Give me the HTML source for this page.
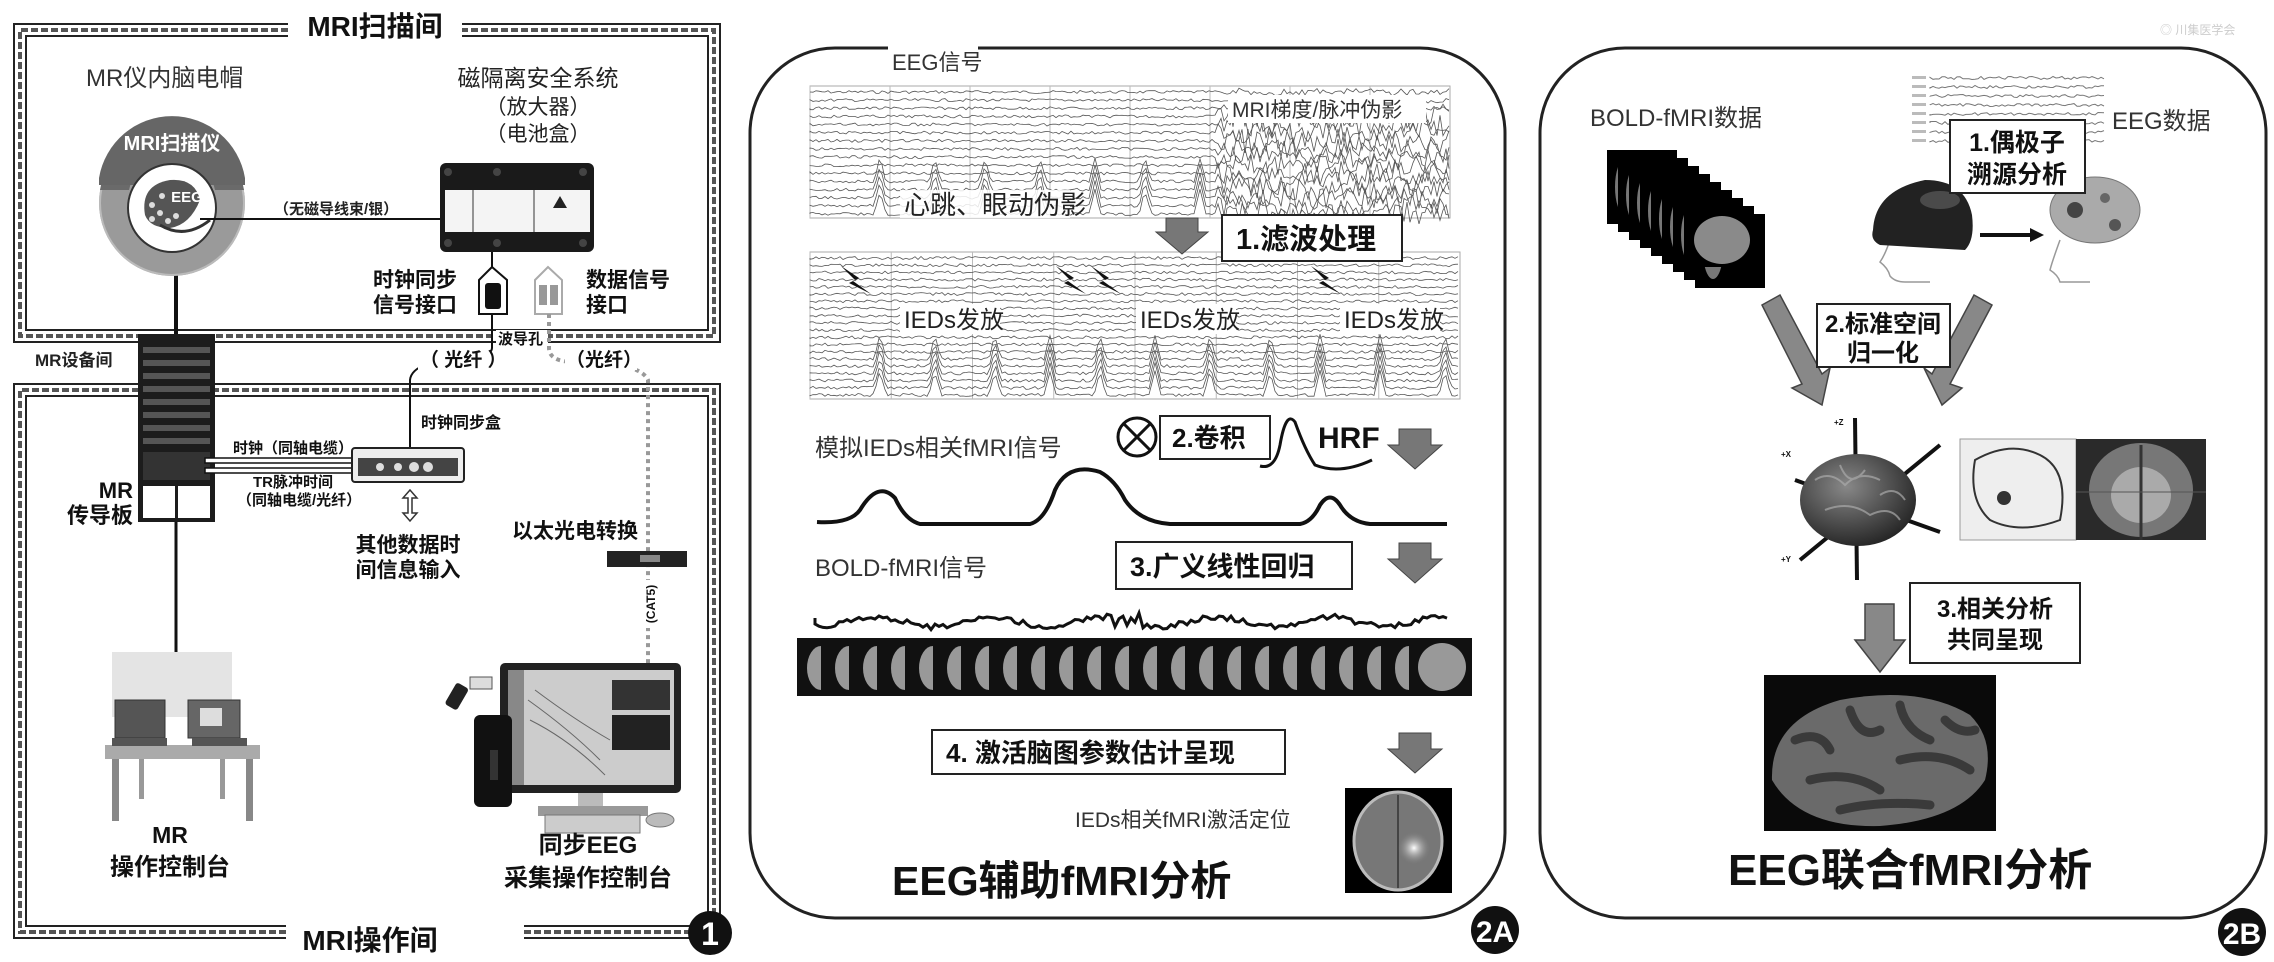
<!DOCTYPE html>
<html><head><meta charset="utf-8">
<style>
html,body{margin:0;padding:0;background:#fff;}
svg{display:block;}
text{font-family:"Liberation Sans","Noto Sans CJK SC",sans-serif;}
.b{font-weight:bold;}
</style></head>
<body>
<svg id="s" width="2274" height="962" viewBox="0 0 2274 962" xmlns="http://www.w3.org/2000/svg">
<defs>
<radialGradient id="hot" cx="0.5" cy="0.5" r="0.5"><stop offset="0" stop-color="#fff"/><stop offset="1" stop-color="#888" stop-opacity="0"/></radialGradient>
<radialGradient id="gb" cx="0.4" cy="0.35" r="0.7"><stop offset="0" stop-color="#888"/><stop offset="1" stop-color="#222"/></radialGradient>
</defs>
<rect width="2274" height="962" fill="#fff"/>

<!-- ============ PANEL 1 ============ -->
<g id="walls" fill="none" stroke="#222">
 <path d="M288 24 H14 V342 H720 V24 H462" stroke-width="2"/>
 <path d="M288 36 H26 V330 H708 V36 H462" stroke-width="2"/>
 <path d="M288 30 H20 V336 H714 V30 H462" stroke-width="4" stroke-dasharray="7 3" stroke="#555"/>
 <path d="M286 938 H14 V384 H720 V918" stroke-width="2"/>
 <path d="M286 926 H26 V396 H708 V918" stroke-width="2"/>
 <path d="M286 932 H20 V390 H714 V918" stroke-width="4" stroke-dasharray="7 3" stroke="#555"/>
 <path d="M524 938 H690 M524 926 H690" stroke-width="2"/>
 <path d="M524 932 H690" stroke-width="4" stroke-dasharray="7 3" stroke="#555"/>
</g>
<text x="375" y="36" class="b" font-size="28" text-anchor="middle" fill="#111">MRI扫描间</text>
<text x="370" y="950" class="b" font-size="28" text-anchor="middle" fill="#111">MRI操作间</text>
<text x="35" y="366" class="b" font-size="17" fill="#222">MR设备间</text>

<text x="86" y="86" font-size="24" fill="#333">MR仪内脑电帽</text>
<text x="538" y="86" font-size="23" text-anchor="middle" fill="#222">磁隔离安全系统</text>
<text x="538" y="114" font-size="21" text-anchor="middle" fill="#222">（放大器）</text>
<text x="538" y="141" font-size="21" text-anchor="middle" fill="#222">（电池盒）</text>

<line x1="176" y1="260" x2="176" y2="340" stroke="#111" stroke-width="4"/>
<circle cx="172" cy="203" r="73" fill="#9a9a9a"/>
<circle cx="172" cy="203" r="72" fill="none" stroke="#bbb" stroke-width="2"/>
<path d="M100 190 A73 73 0 0 1 244 190 L215 190 A44 44 0 0 0 129 190 Z" fill="#6a6a6a"/>
<path d="M99 178 A74 74 0 0 1 245 178 L245 185 L99 185 Z" fill="#666"/>
<text x="172" y="150" class="b" font-size="20" text-anchor="middle" fill="#fff">MRI扫描仪</text>
<circle cx="172" cy="208" r="44" fill="#fff" stroke="#333" stroke-width="2"/>
<path d="M145 215 Q140 185 170 180 Q195 178 200 200 Q190 225 170 228 Q150 228 145 215Z" fill="#555"/>
<g fill="#ddd"><circle cx="152" cy="205" r="3"/><circle cx="160" cy="213" r="3"/><circle cx="152" cy="219" r="3"/><circle cx="162" cy="196" r="3"/><circle cx="168" cy="221" r="3"/><circle cx="176" cy="216" r="3"/></g>
<text x="187" y="202" class="b" font-size="15" text-anchor="middle" fill="#fff">EEG</text>
<path d="M160 225 Q185 240 210 220" stroke="#333" stroke-width="3" fill="none"/>
<line x1="200" y1="219" x2="440" y2="219" stroke="#111" stroke-width="2"/>
<text x="274" y="214" class="b" font-size="15" fill="#222">（无磁导线束/银）</text>

<rect x="440" y="163" width="154" height="89" rx="6" fill="#1a1a1a"/>
<rect x="445" y="190" width="145" height="42" fill="#f4f4f4"/>
<line x1="473" y1="190" x2="473" y2="232" stroke="#333"/><line x1="534" y1="190" x2="534" y2="232" stroke="#333"/>
<polygon points="560,196 553,208 567,208" fill="#222"/>
<g fill="#444"><circle cx="448" cy="172" r="4"/><circle cx="497" cy="172" r="4"/><circle cx="583" cy="172" r="4"/><circle cx="448" cy="243" r="4"/><circle cx="497" cy="243" r="4"/><circle cx="583" cy="243" r="4"/></g>
<line x1="492" y1="252" x2="492" y2="268" stroke="#111" stroke-width="2"/>
<path d="M479 280 L492 267 L507 280 L507 314 L479 314 Z" fill="#fff" stroke="#111" stroke-width="2"/>
<rect x="485" y="283" width="16" height="26" rx="3" fill="#111"/>
<path d="M535 280 L548 267 L562 280 L562 314 L535 314 Z" fill="#fff" stroke="#aaa" stroke-width="2"/>
<rect x="539" y="285" width="8" height="20" fill="#999"/><rect x="550" y="285" width="8" height="20" fill="#999"/>
<text x="415" y="287" class="b" font-size="21" text-anchor="middle" fill="#111">时钟同步</text>
<text x="415" y="312" class="b" font-size="21" text-anchor="middle" fill="#111">信号接口</text>
<text x="586" y="287" class="b" font-size="21" fill="#111">数据信号</text>
<text x="586" y="312" class="b" font-size="21" fill="#111">接口</text>
<rect x="496" y="330" width="52" height="16" fill="#fff"/>
<text x="498" y="344" class="b" font-size="15" fill="#111">波导孔</text>

<path d="M492 314 V348 Q492 356 470 358 Q412 360 410 380 V448" stroke="#111" stroke-width="2" fill="none"/>
<rect x="418" y="350" width="72" height="20" fill="#fff"/>
<text x="420" y="366" class="b" font-size="19" fill="#111">（ 光纤 ）</text>
<path d="M549 314 V348 Q549 362 575 362 Q640 362 648 380 V665" stroke="#999" stroke-width="4" stroke-dasharray="4 4" fill="none"/>
<rect x="565" y="350" width="72" height="20" fill="#fff"/>
<text x="566" y="366" class="b" font-size="19" fill="#111">（光纤）</text>

<rect x="138" y="334" width="77" height="188" fill="#1c1c1c"/>
<g fill="#555"><rect x="143" y="347" width="67" height="6"/><rect x="143" y="360" width="67" height="6"/><rect x="143" y="373" width="67" height="6"/><rect x="143" y="386" width="67" height="6"/><rect x="143" y="399" width="67" height="6"/><rect x="143" y="412" width="67" height="6"/><rect x="143" y="425" width="67" height="6"/><rect x="143" y="438" width="67" height="6"/></g>
<rect x="143" y="452" width="67" height="28" fill="#333"/>
<rect x="143" y="486" width="32" height="32" fill="#fff"/><rect x="178" y="486" width="32" height="32" fill="#fff"/>
<line x1="176" y1="522" x2="176" y2="700" stroke="#111" stroke-width="3"/>
<text x="133" y="498" class="b" font-size="22" text-anchor="end" fill="#111">MR</text>
<text x="133" y="523" class="b" font-size="22" text-anchor="end" fill="#111">传导板</text>

<rect x="205" y="458" width="150" height="5" fill="#fff" stroke="#111" stroke-width="1.5"/>
<rect x="205" y="468" width="150" height="5" fill="#fff" stroke="#111" stroke-width="1.5"/>
<text x="233" y="453" class="b" font-size="15" fill="#111">时钟（同轴电缆）</text>
<text x="253" y="487" class="b" font-size="15" fill="#111">TR脉冲时间</text>
<text x="237" y="505" class="b" font-size="15" fill="#111">（同轴电缆/光纤）</text>
<rect x="352" y="448" width="112" height="34" rx="3" fill="#eee" stroke="#222" stroke-width="2"/>
<rect x="358" y="458" width="100" height="18" fill="#444"/>
<g fill="#ddd"><circle cx="380" cy="467" r="4"/><circle cx="398" cy="467" r="4"/><circle cx="414" cy="467" r="5"/><circle cx="428" cy="467" r="5"/></g>
<text x="421" y="428" class="b" font-size="16" fill="#111">时钟同步盒</text>
<path d="M410 490 L403 498 H408 V513 H403 L410 521 L417 513 H412 V498 H417 Z" fill="#fff" stroke="#333" stroke-width="1.5"/>
<text x="408" y="552" class="b" font-size="21" text-anchor="middle" fill="#111">其他数据时</text>
<text x="408" y="577" class="b" font-size="21" text-anchor="middle" fill="#111">间信息输入</text>

<text x="512" y="538" class="b" font-size="21" fill="#111">以太光电转换</text>
<rect x="607" y="551" width="80" height="16" fill="#222"/>
<rect x="640" y="555" width="20" height="7" fill="#888"/>
<rect x="640" y="580" width="18" height="48" fill="#fff"/>
<text x="655" y="604" class="b" font-size="12" fill="#111" text-anchor="middle" transform="rotate(-90 655 604)">(CAT5)</text>

<rect x="112" y="652" width="120" height="65" fill="#e4e4e4"/>
<rect x="115" y="700" width="50" height="38" fill="#555" stroke="#333"/>
<rect x="188" y="700" width="52" height="38" fill="#666" stroke="#333"/>
<rect x="200" y="708" width="22" height="18" fill="#ddd"/>
<rect x="105" y="745" width="155" height="14" fill="#aaa"/>
<rect x="112" y="738" width="55" height="8" fill="#555"/><rect x="192" y="738" width="55" height="8" fill="#555"/>
<rect x="112" y="759" width="7" height="62" fill="#888"/><rect x="246" y="759" width="7" height="62" fill="#888"/>
<rect x="139" y="759" width="5" height="40" fill="#999"/><rect x="220" y="759" width="5" height="40" fill="#999"/>
<text x="170" y="843" class="b" font-size="23" text-anchor="middle" fill="#111">MR</text>
<text x="170" y="875" class="b" font-size="24" text-anchor="middle" fill="#111">操作控制台</text>

<rect x="500" y="663" width="181" height="130" rx="5" fill="#222"/>
<rect x="508" y="670" width="166" height="115" fill="#ccc"/>
<rect x="508" y="670" width="16" height="115" fill="#888"/>
<path d="M528 700 Q570 730 600 760 M530 720 Q570 740 605 775 M535 690 Q575 720 610 740" stroke="#666" fill="none"/>
<rect x="612" y="680" width="58" height="30" fill="#333"/>
<rect x="612" y="715" width="58" height="35" fill="#222"/>
<rect x="578" y="793" width="25" height="14" fill="#bbb"/>
<rect x="538" y="806" width="110" height="10" fill="#999"/>
<rect x="545" y="815" width="95" height="18" fill="#ccc" stroke="#777"/>
<ellipse cx="660" cy="820" rx="14" ry="7" fill="#bbb" stroke="#777"/>
<rect x="474" y="715" width="38" height="92" rx="6" fill="#111"/>
<rect x="490" y="750" width="8" height="30" fill="#333"/>
<rect x="450" y="684" width="14" height="25" rx="3" fill="#222" transform="rotate(30 457 696)"/>
<rect x="470" y="677" width="22" height="12" fill="#ddd" stroke="#555"/>
<text x="588" y="853" class="b" font-size="24" text-anchor="middle" fill="#111">同步EEG</text>
<text x="588" y="886" class="b" font-size="24" text-anchor="middle" fill="#111">采集操作控制台</text>

<circle cx="710" cy="933" r="22" fill="#111"/>
<text x="710" y="945" class="b" font-size="32" text-anchor="middle" fill="#fff">1</text>

<!-- ============ PANEL 2A ============ -->
<rect x="750" y="48" width="755" height="870" rx="85" fill="none" stroke="#222" stroke-width="3"/>
<g id="eeg1"></g>
<g id="eeg2"></g>
<rect x="888" y="46" width="90" height="26" fill="#fff"/>
<text x="892" y="70" font-size="22" fill="#333">EEG信号</text>
<rect x="1228" y="95" width="198" height="28" fill="#fff"/>
<text x="1232" y="117" font-size="21" fill="#333">MRI梯度/脉冲伪影</text>
<rect x="900" y="190" width="170" height="28" fill="#fff" opacity="0.85"/>
<text x="904" y="214" font-size="26" fill="#222">心跳、眼动伪影</text>
<path d="M1166 218 H1198 V232 H1208 L1182 254 L1156 232 H1166 Z" fill="#777" stroke="#444"/>
<rect x="1222" y="215" width="180" height="46" fill="#fff" stroke="#222" stroke-width="2"/>
<text x="1236" y="249" class="b" font-size="29" fill="#111">1.滤波处理</text>
<g id="ied"></g>
<rect x="900" y="304" width="100" height="30" fill="#fff"/><text x="904" y="328" font-size="24" fill="#222">IEDs发放</text>
<rect x="1136" y="304" width="100" height="30" fill="#fff"/><text x="1140" y="328" font-size="24" fill="#222">IEDs发放</text>
<rect x="1340" y="304" width="100" height="30" fill="#fff"/><text x="1344" y="328" font-size="24" fill="#222">IEDs发放</text>

<circle cx="1137" cy="437" r="19" fill="#fff" stroke="#111" stroke-width="3"/>
<path d="M1124 424 L1150 450 M1150 424 L1124 450" stroke="#111" stroke-width="3"/>
<rect x="1160" y="416" width="110" height="43" fill="#fff" stroke="#222" stroke-width="2"/>
<text x="1172" y="447" class="b" font-size="26" fill="#111">2.卷积</text>
<path d="M1260 466 Q1275 470 1280 445 Q1286 410 1295 422 Q1305 450 1315 465 Q1340 475 1372 460" stroke="#111" stroke-width="3" fill="none"/>
<text x="1318" y="448" class="b" font-size="30" fill="#111">HRF</text>
<text x="815" y="456" font-size="24" fill="#333">模拟IEDs相关fMRI信号</text>
<path d="M817 522 Q850 524 860 510 Q878 480 895 498 Q905 520 920 524 L1030 524 Q1045 520 1055 490 Q1068 462 1100 472 Q1115 480 1125 500 Q1140 522 1170 524 L1300 524 Q1312 522 1320 505 Q1330 490 1340 505 Q1350 522 1370 524 L1447 524" stroke="#111" stroke-width="4" fill="none"/>
<text x="815" y="576" font-size="24" fill="#333">BOLD-fMRI信号</text>
<rect x="1116" y="542" width="236" height="47" fill="#fff" stroke="#222" stroke-width="2"/>
<text x="1130" y="576" class="b" font-size="27" fill="#111">3.广义线性回归</text>
<path id="bold" d="" stroke="#111" stroke-width="3" fill="none"/>
<g id="slices"></g>
<rect x="932" y="730" width="353" height="44" fill="#fff" stroke="#222" stroke-width="2"/>
<text x="946" y="762" class="b" font-size="26" fill="#111">4. 激活脑图参数估计呈现</text>
<g fill="#777" stroke="#444">
<path d="M1399 429 H1431 V445 H1442 L1415 469 L1388 445 H1399 Z"/>
<path d="M1399 543 H1431 V559 H1442 L1415 583 L1388 559 H1399 Z"/>
<path d="M1399 733 H1431 V749 H1442 L1415 773 L1388 749 H1399 Z"/>
</g>
<text x="1075" y="827" font-size="21" fill="#333">IEDs相关fMRI激活定位</text>
<rect x="1345" y="788" width="107" height="105" fill="#000"/>
<ellipse cx="1398" cy="841" rx="44" ry="49" fill="#777" stroke="#bbb" stroke-width="3"/>
<line x1="1398" y1="795" x2="1398" y2="888" stroke="#444" stroke-width="2"/>
<circle cx="1414" cy="848" r="16" fill="url(#hot)"/>
<text x="892" y="895" class="b" font-size="41" fill="#111">EEG辅助fMRI分析</text>
<circle cx="1495" cy="930" r="24" fill="#111"/>
<text x="1495" y="942" class="b" font-size="30" text-anchor="middle" fill="#fff">2A</text>

<!-- ============ PANEL 2B ============ -->
<rect x="1540" y="48" width="726" height="870" rx="85" fill="none" stroke="#222" stroke-width="3"/>
<text x="2160" y="34" font-size="12" fill="#ccc">◎ 川集医学会</text>
<text x="1590" y="126" font-size="24" fill="#333">BOLD-fMRI数据</text>
<g id="stack"></g>
<g id="eeg3"></g>
<text x="2112" y="129" font-size="24" fill="#333">EEG数据</text>
<path d="M1890 240 Q1885 255 1880 262 Q1888 268 1890 276 Q1895 282 1905 282 L1930 282" stroke="#999" fill="none" stroke-width="1.5"/>
<path d="M1873 230 Q1875 190 1925 180 Q1965 180 1972 215 Q1975 240 1965 250 L1880 245 Q1870 240 1873 230Z" fill="#222"/>
<ellipse cx="1940" cy="200" rx="20" ry="9" fill="#666" opacity="0.6"/>
<line x1="1980" y1="235" x2="2036" y2="235" stroke="#111" stroke-width="4"/>
<polygon points="2044,235 2030,228 2030,242" fill="#111"/>
<path d="M2060 240 Q2052 262 2050 270 Q2058 275 2060 282 L2090 282" stroke="#999" fill="none" stroke-width="1.5"/>
<ellipse cx="2095" cy="210" rx="45" ry="33" fill="#aaa" stroke="#777"/>
<circle cx="2075" cy="210" r="8" fill="#444"/><circle cx="2115" cy="225" r="6" fill="#555"/><circle cx="2105" cy="198" r="5" fill="#666"/>
<rect x="1950" y="120" width="135" height="73" fill="#fff" stroke="#222" stroke-width="2"/>
<text x="2017" y="151" class="b" font-size="25" text-anchor="middle" fill="#111">1.偶极子</text>
<text x="2017" y="183" class="b" font-size="25" text-anchor="middle" fill="#111">溯源分析</text>
<g fill="#888" stroke="#444" stroke-width="1.5">
<polygon points="1762,305 1780,295 1822,374 1830,368 1822,405 1792,388 1802,384"/>
<polygon points="1992,305 1974,295 1932,374 1924,368 1942,405 1962,388 1950,384"/>
</g>
<rect x="1817" y="304" width="133" height="63" fill="#fff" stroke="#222" stroke-width="2"/>
<text x="1883" y="332" class="b" font-size="24" text-anchor="middle" fill="#111">2.标准空间</text>
<text x="1883" y="361" class="b" font-size="24" text-anchor="middle" fill="#111">归一化</text>
<g stroke="#111" stroke-width="4">
<line x1="1855" y1="418" x2="1857" y2="580"/><line x1="1795" y1="480" x2="1940" y2="532"/><line x1="1800" y1="560" x2="1940" y2="445"/>
</g>
<ellipse cx="1858" cy="500" rx="58" ry="46" fill="url(#gb)"/>
<g stroke="#aaa" stroke-width="2" fill="none" opacity="0.7">
<path d="M1815 480 Q1830 470 1845 485 Q1860 470 1880 480"/><path d="M1825 510 Q1850 500 1870 515 Q1890 505 1900 520"/><path d="M1840 465 Q1850 490 1865 470"/><path d="M1880 495 Q1895 485 1905 500"/>
</g>
<text x="1834" y="425" class="b" font-size="8" fill="#111">+Z</text>
<text x="1781" y="457" class="b" font-size="8" fill="#111">+X</text>
<text x="1781" y="562" class="b" font-size="8" fill="#111">+Y</text>
<rect x="1960" y="439" width="116" height="101" fill="#eee" stroke="#999"/>
<path d="M1975 460 Q2010 440 2040 455 Q2070 470 2060 520 Q2020 535 1990 520 Q1968 500 1975 460Z" fill="none" stroke="#333" stroke-width="2"/>
<circle cx="2004" cy="498" r="7" fill="#333"/>
<rect x="2076" y="439" width="130" height="101" fill="#2a2a2a"/>
<ellipse cx="2141" cy="490" rx="52" ry="47" fill="#777"/>
<ellipse cx="2141" cy="495" rx="30" ry="28" fill="#aaa"/>
<line x1="2141" y1="445" x2="2141" y2="540" stroke="#333" stroke-width="3"/>
<line x1="2076" y1="492" x2="2206" y2="492" stroke="#555"/>
<path d="M1865 604 H1894 V640 H1905 L1880 672 L1855 640 H1865 Z" fill="#888" stroke="#444" stroke-width="1.5"/>
<rect x="1910" y="583" width="170" height="80" fill="#fff" stroke="#222" stroke-width="2"/>
<text x="1995" y="617" class="b" font-size="24" text-anchor="middle" fill="#111">3.相关分析</text>
<text x="1995" y="648" class="b" font-size="24" text-anchor="middle" fill="#111">共同呈现</text>
<rect x="1764" y="675" width="232" height="156" fill="#0a0a0a"/>
<path d="M1772 780 Q1770 720 1840 700 Q1920 685 1970 715 Q1995 740 1985 780 Q1960 820 1880 826 Q1800 828 1772 780Z" fill="#6a6a6a"/>
<g stroke="#3a3a3a" stroke-width="9" fill="none" stroke-linecap="round">
<path d="M1795 740 Q1820 730 1830 750"/><path d="M1850 710 Q1860 740 1880 730"/><path d="M1900 705 Q1905 730 1930 740"/><path d="M1810 780 Q1850 770 1880 790"/><path d="M1900 760 Q1940 750 1970 770"/><path d="M1840 810 Q1880 800 1930 805"/><path d="M1945 720 Q1960 735 1975 730"/>
</g>
<text x="1728" y="885" class="b" font-size="44" fill="#111">EEG联合fMRI分析</text>
<circle cx="2242" cy="932" r="24" fill="#111"/>
<text x="2242" y="944" class="b" font-size="30" text-anchor="middle" fill="#fff">2B</text>
</svg>
<script>
(function(){
var NS="http://www.w3.org/2000/svg";
function el(t,a,p){var e=document.createElementNS(NS,t);for(var k in a)e.setAttribute(k,a[k]);document.getElementById(p).appendChild(e);return e;}
var seed=7;function r(){seed=(seed*9301+49297)%233280;return seed/233280;}
function traces(id,x0,x1,y0,y1,n,spikes,artX){
 el('rect',{x:x0,y:y0,width:x1-x0,height:y1-y0,fill:'#fff',stroke:'#aaa','stroke-width':1},id);
 for(var i=0;i<8;i++){var vx=x0+(x1-x0)*i/8;el('line',{x1:vx,y1:y0,x2:vx,y2:y1,stroke:'#bbb','stroke-width':1},id);}
 for(var c=0;c<n;c++){var y=y0+6+(y1-y0-10)*c/(n-1);var d='M'+x0+' '+y;
  for(var x=x0;x<=x1;x+=3){var a=1.5;var yy=y+(r()-0.5)*a*2;
   if(c>n*0.65){for(var s=0;s<spikes.length;s++){var dx=x-spikes[s];if(dx>-6&&dx<6)yy-=(6-Math.abs(dx))*4;}}
   if(artX&&x>artX)yy+=(r()-0.5)*(c>2?22:6);
   d+=' L'+x+' '+yy.toFixed(1);}
  el('path',{d:d,stroke:'#555','stroke-width':0.8,fill:'none'},id);}
}
traces('eeg1',810,1450,86,218,16,[880,935,985,1040,1095,1145,1200],1215);
traces('eeg2',810,1460,252,399,20,[880,935,995,1050,1100,1155,1210,1270,1320,1380,1445],0);
[[855,280],[1070,280],[1105,280],[1325,280]].forEach(function(p){var x=p[0],y=p[1];
 el('polygon',{points:(x-14)+','+(y-14)+' '+(x+4)+','+(y-2)+' '+(x-2)+','+(y+1)+' '+(x+16)+','+(y+14)+' '+(x-6)+','+(y+3)+' '+x+','+y,fill:'#111'},'ied');});
var d='M815 618';for(var x=815;x<=1447;x+=4){var y=622+Math.sin(x/18)*5+(r()-0.5)*6;if(x>1110&&x<1140)y+=(r()-0.5)*30;d+=' L'+x+' '+y.toFixed(1);}
document.getElementById('bold').setAttribute('d',d);
el('rect',{x:797,y:638,width:675,height:58,fill:'#111'},'slices');
for(var i=0;i<22;i++){var sx=803+i*28;el('path',{d:'M'+(sx+18)+' 646 A14 22 0 0 0 '+(sx+18)+' 690 Z',fill:'#999'},'slices');}
el('circle',{cx:1442,cy:667,r:24,fill:'#999'},'slices');
for(var k=0;k<9;k++){var bx=1607+k*11,by=150+k*8;el('rect',{x:bx,y:by,width:70,height:74,fill:'#000'},'stack');el('ellipse',{cx:bx+18,cy:by+37,rx:10,ry:28,fill:'#777'},'stack');}
el('rect',{x:1688,y:214,width:64,height:53,fill:'#000'},'stack');
el('ellipse',{cx:1722,cy:240,rx:28,ry:24,fill:'#8a8a8a'},'stack');
for(var c=0;c<8;c++){var y=78+c*9;var dd='M1930 '+y;for(var x=1930;x<2105;x+=3)dd+=' L'+x+' '+(y+(r()-0.5)*3).toFixed(1);el('path',{d:dd,stroke:'#777','stroke-width':1,fill:'none'},'eeg3');el('rect',{x:1912,y:y-2,width:14,height:3,fill:'#bbb'},'eeg3');}
})();
</script>
</body></html>
